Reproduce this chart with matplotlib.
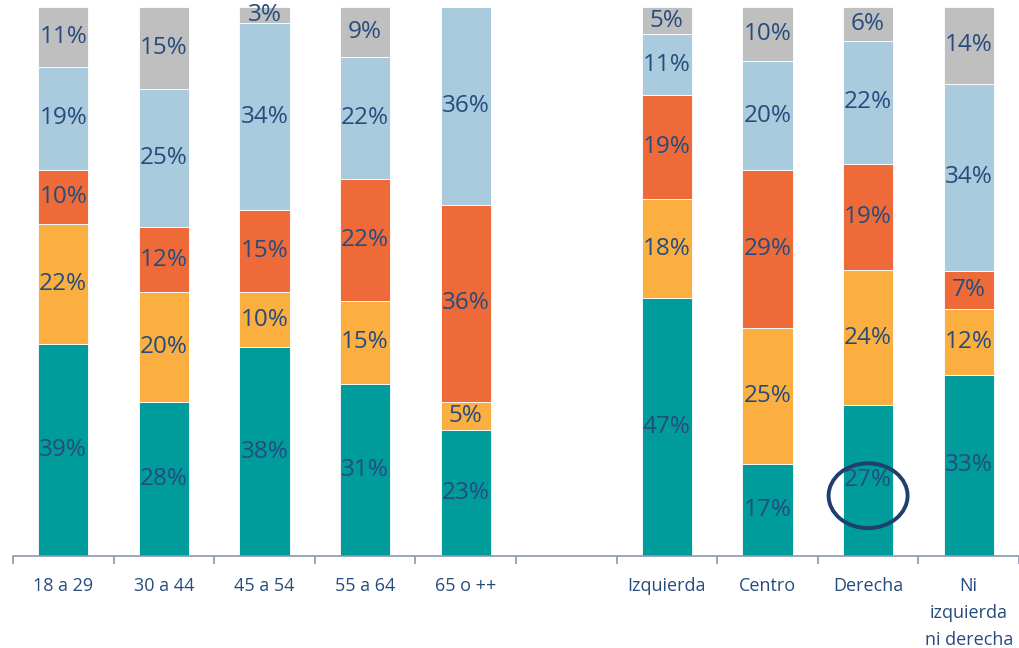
import matplotlib
matplotlib.use("Agg")
import matplotlib.pyplot as plt
from matplotlib.patches import Ellipse
import numpy as np

categories = ["18 a 29", "30 a 44", "45 a 54", "55 a 64", "65 o ++", "",
              "Izquierda", "Centro", "Derecha", "Ni\nizquierda\nni derecha"]
teal   = [39, 28, 38, 31, 23, 0, 47, 17, 27, 33]
yellow = [22, 20, 10, 15, 5, 0, 18, 25, 24, 12]
red    = [10, 12, 15, 22, 36, 0, 19, 29, 19, 7]
blue   = [19, 25, 34, 22, 36, 0, 11, 20, 22, 34]
gray   = [11, 15, 3, 9, 0, 0, 5, 10, 6, 14]

series = [teal, yellow, red, blue, gray]
colors = ["#009B9B", "#FBAF41", "#EE6B39", "#A9CBDD", "#BFBFBF"]
txt_color = "#264C7E"

plt.rcParams['font.family'] = ['Open Sans', 'DejaVu Sans']

fig = plt.figure(figsize=(10.19, 6.48), dpi=100)
ax = fig.add_axes([13/1019, (648-556)/648, 1006/1019, (556-7)/648])

x = np.arange(len(categories))
data = np.array(series, dtype=float)
totals = data.sum(axis=0)
totals[totals == 0] = 1
shares = data / totals

bottom = np.zeros(len(categories))
for vals, sh, c in zip(series, shares, colors):
    ax.bar(x, sh, 0.5, bottom=bottom, color=c, edgecolor="white", linewidth=0.6)
    for i, (v, s, b) in enumerate(zip(vals, sh, bottom)):
        if v > 0:
            ax.text(x[i], b + s / 2, f"{v}%", ha="center", va="center",
                    fontsize=17.5, color=txt_color)
    bottom += sh

ax.set_xlim(-0.5, len(categories) - 0.5)
ax.set_ylim(0, 1)
ax.set_yticks([])
for s in ["top", "right", "left"]:
    ax.spines[s].set_visible(False)
ax.spines["bottom"].set_color("#8C97AA")
ax.spines["bottom"].set_linewidth(1.2)

ax.set_xticks(x)
ax.set_xticklabels(categories, fontsize=13, color=txt_color, linespacing=1.65)
ax.tick_params(axis="x", which="major", length=0, pad=15)
ax.set_xticks(np.arange(-0.5, len(categories), 1), minor=True)
ax.tick_params(axis="x", which="minor", length=6, width=1.2, color="#8C97AA")

# highlight circle around Derecha teal label
di = categories.index("Derecha")
ax.add_patch(Ellipse((x[di], shares[0][di] / 2 - 0.028), 0.785, 0.118, fill=False,
                     edgecolor="#1F3F6E", linewidth=2.8, clip_on=False))

fig.savefig("out.png", dpi=100)
